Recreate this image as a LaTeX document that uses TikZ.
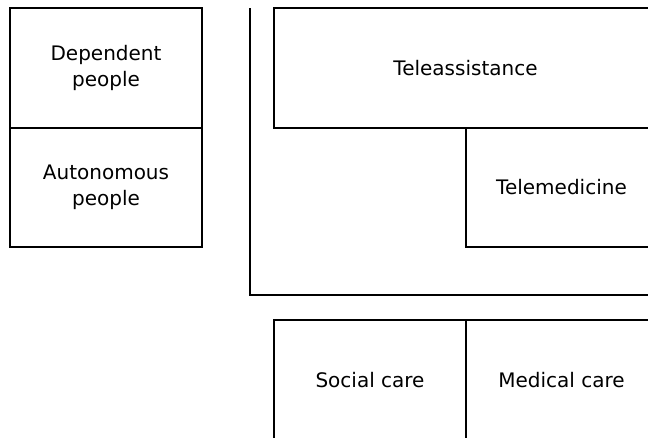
\documentclass[tikz,border=0pt]{standalone}
\usepackage{fontspec}
\setmainfont{DejaVu Sans}
\usetikzlibrary{positioning}

\tikzset{
  cell/.style={draw, line width=1.3pt, outer sep=0pt, inner sep=0pt,
    align=center, font=\fontsize{20}{26}\selectfont},
}

\begin{document}
\begin{tikzpicture}[x=1pt,y=-1pt]
\useasboundingbox (0,0) rectangle (648,437);
\clip (0,0) rectangle (648,437);
% people
\node[cell, minimum width=192pt, minimum height=120pt, anchor=north west] (dep) at (10,8) {Dependent\\people};
\node[cell, minimum width=192pt, minimum height=119pt, below=0pt of dep] (aut) {Autonomous\\people};
% services
\node[cell, minimum width=383pt, minimum height=120pt, anchor=north west] (tele) at (274,8) {Teleassistance};
\node[cell, minimum width=191pt, minimum height=119pt, anchor=north east] (telemed) at (tele.south east) {Telemedicine};
\coordinate (ltop) at (250,8);
\coordinate (lcorner) at (250,295);
\coordinate (lend) at (660,295);
\draw[line width=1.3pt] (ltop) -- (lcorner) -- (lend);
% care
\node[cell, minimum width=192pt, minimum height=120pt, anchor=north west] (social) at (274,320) {Social care};
\node[cell, minimum width=191pt, minimum height=120pt, right=0pt of social] (medical) {Medical care};
\end{tikzpicture}
\end{document}
